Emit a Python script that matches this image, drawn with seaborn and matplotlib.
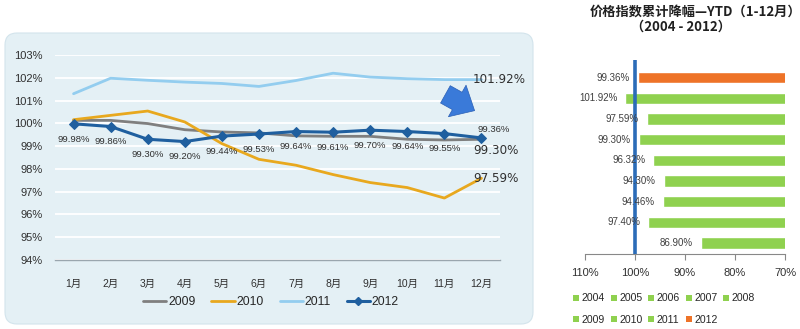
import matplotlib
matplotlib.use('Agg')
import matplotlib.pyplot as plt
import seaborn as sns
import numpy as np
import pandas as pd
from matplotlib.patches import FancyBboxPatch, FancyArrowPatch, Patch
from matplotlib.lines import Line2D

# ---------------- data ----------------
months = ['1月', '2月', '3月', '4月', '5月', '6月', '7月', '8月', '9月', '10月', '11月', '12月']
y2009 = [100.13, 100.13, 99.99, 99.72, 99.62, 99.58, 99.45, 99.43, 99.43, 99.30, 99.27, 99.30]
y2010 = [100.16, 100.35, 100.54, 100.06, 99.11, 98.42, 98.16, 97.75, 97.40, 97.18, 96.72, 97.59]
y2011 = [101.30, 101.98, 101.89, 101.81, 101.75, 101.62, 101.88, 102.20, 102.03, 101.96, 101.92, 101.92]
y2012 = [99.98, 99.86, 99.30, 99.20, 99.44, 99.53, 99.64, 99.61, 99.70, 99.64, 99.55, 99.36]
line_years = ['2009', '2010', '2011', '2012']
end_labels = {'2011': '101.92%', '2009': '99.30%', '2010': '97.59%'}

left_yticks = [94, 95, 96, 97, 98, 99, 100, 101, 102, 103]

bar_years = ['2012', '2011', '2010', '2009', '2008', '2007', '2006', '2005', '2004']
bar_values = [99.36, 101.92, 97.59, 99.30, 96.32, 94.30, 94.46, 97.40, 86.90]
bar_xticks = [110, 100, 90, 80, 70]

title_line1 = '价格指数累计降幅—YTD（1-12月）'
title_line2 = '（2004 - 2012）'

# ---------------- style ----------------
sns.set_theme(style='white')
plt.rcParams['font.family'] = ['Liberation Sans', 'Noto Sans CJK SC', 'DejaVu Sans']

line_colors = {'2009': '#7f7f7f', '2010': '#e8a81e', '2011': '#93cdef', '2012': '#1f5f9f'}
green = '#8fd14f'
orange = '#ee7328'

fig = plt.figure(figsize=(8, 3.29), dpi=100)

# panel background
bg = FancyBboxPatch((0.05, 0.05), 5.28, 2.91,
                    boxstyle='round,pad=0,rounding_size=0.12',
                    transform=fig.dpi_scale_trans,
                    facecolor='#e4f0f5', edgecolor='#d3e4ec', lw=0.8, zorder=0)
fig.add_artist(bg)

# ---------------- left line chart ----------------
ax = fig.add_axes([55/800, 1-260/329, 445/800, 205/329])
ax.set_facecolor('none')
x = np.arange(1, 13)
df = pd.DataFrame({'m': np.tile(x, 4),
                   'v': y2009 + y2010 + y2011 + y2012,
                   'year': np.repeat(line_years, 12)})
for yr in line_years:
    sub = df[df['year'] == yr]
    if yr == '2012':
        sns.lineplot(data=sub, x='m', y='v', ax=ax, color=line_colors[yr], lw=2.2,
                     marker='D', markersize=5, markeredgecolor=line_colors[yr], zorder=5)
    else:
        sns.lineplot(data=sub, x='m', y='v', ax=ax, color=line_colors[yr], lw=2.0, zorder=3)

ax.set_xlim(0.5, 12.5)
ax.set_ylim(94, 103)
ax.set_yticks(left_yticks)
ax.set_yticklabels([f'{t}%' for t in left_yticks], fontsize=8, color='#303030')
ax.set_xticks(x)
ax.set_xticklabels(months, fontsize=7.5, color='#303030')
ax.tick_params(axis='x', length=0, pad=14)
ax.tick_params(axis='y', length=0, pad=9)
ax.set_xlabel('')
ax.set_ylabel('')
ax.yaxis.grid(True, color='white', lw=1.3, zorder=1)
ax.xaxis.grid(False)
for s in ['top', 'right', 'left']:
    ax.spines[s].set_visible(False)
ax.spines['bottom'].set_color('#9aa6ae')
ax.spines['bottom'].set_linewidth(1.0)

# 2012 data labels
for i, v in enumerate(y2012):
    if i == 11:
        ax.annotate(f'{v:.2f}%', (x[i], v), xytext=(-3, 3), textcoords='offset points',
                    ha='left', va='bottom', fontsize=6.8, color='#303030')
    else:
        ax.annotate(f'{v:.2f}%', (x[i], v), xytext=(0, -11), textcoords='offset points',
                    ha='center', va='center', fontsize=6.8, color='#303030')

# end labels
end_vals = {'2011': y2011[-1], '2009': y2009[-1], '2010': y2010[-1]}
end_off = {'2011': 0, '2009': -8, '2010': 0}
for yr, lab in end_labels.items():
    ax.annotate(lab, (x[-1], end_vals[yr]), xytext=(-6, end_off[yr]), textcoords='offset points',
                ha='left', va='center', fontsize=8.6, color='#303030', family='DejaVu Sans')

# left legend
handles = [Line2D([], [], color=line_colors[y], lw=2 if y != '2012' else 2.2,
                  marker='D' if y == '2012' else None, markersize=4) for y in line_years]
fig.legend(handles, line_years, loc='center', bbox_to_anchor=(271/800, 1-302/329), ncol=4,
           frameon=False, fontsize=8.8, handlelength=1.9, handletextpad=0.15, columnspacing=1.3)

# arrow
arr = FancyArrowPatch((4.43, 3.29-0.93), (4.77, 3.29-1.12), transform=fig.dpi_scale_trans,
                      arrowstyle='simple,head_length=0.55,head_width=1.0,tail_width=0.55',
                      mutation_scale=26, facecolor='#3a7ad9', edgecolor='#2a5fb5', lw=0.5)
fig.add_artist(arr)

# ---------------- right bar chart ----------------
ax2 = fig.add_axes([585/800, 1-254/329, 200/800, 194/329])
dfb = pd.DataFrame({'year': bar_years, 'value': bar_values})
pal = {y: (orange if y == '2012' else green) for y in bar_years}
sns.barplot(data=dfb, x='value', y='year', hue='year', palette=pal, order=bar_years,
            orient='h', width=0.55, legend=False, ax=ax2, saturation=1)
ax2.set_xlim(110, 70)
ax2.set_ylim(8.53, -0.85)
ax2.axvline(100, color='#2b6cb8', lw=2.6, zorder=4)
for i, v in enumerate(bar_values):
    ax2.text(v + 1.6, i, f'{v:.2f}%', ha='right', va='center', fontsize=7, color='#404040', zorder=6)
ax2.set_xticks(bar_xticks)
ax2.set_xticklabels([f'{t}%' for t in bar_xticks], fontsize=8, color='#303030')
ax2.tick_params(axis='x', length=4, width=0.8, color='#888888', direction='out', pad=6, bottom=True)
ax2.set_yticks([])
ax2.set_xlabel('')
ax2.set_ylabel('')
ax2.set_facecolor('white')
for s in ['top', 'right', 'left']:
    ax2.spines[s].set_visible(False)
ax2.spines['bottom'].set_color('#888888')
ax2.spines['bottom'].set_linewidth(0.8)

# titles
fig.text(695/800, 1-12/329, title_line1, ha='center', va='center', fontsize=9.5,
         fontweight='bold', color='#202020', family=['Noto Sans CJK SC', 'DejaVu Sans'])
fig.text(681/800, 1-27/329, title_line2, ha='center', va='center', fontsize=9.5,
         fontweight='bold', color='#202020', family=['Noto Sans CJK SC', 'DejaVu Sans'])

# right legend (ordered so that column-wise filling shows row-wise)
leg_order = ['2004', '2009', '2005', '2010', '2006', '2011', '2007', '2012', '2008']
rh = [Patch(facecolor=(orange if y == '2012' else green), edgecolor='none') for y in leg_order]
fig.legend(rh, leg_order, loc='center left', bbox_to_anchor=(568/800, 1-309/329), ncol=5,
           frameon=False, fontsize=7.6, handlelength=0.55, handleheight=0.55,
           handletextpad=0.25, columnspacing=0.55, labelspacing=1.05, borderpad=0)

fig.savefig('out.png', dpi=100)
